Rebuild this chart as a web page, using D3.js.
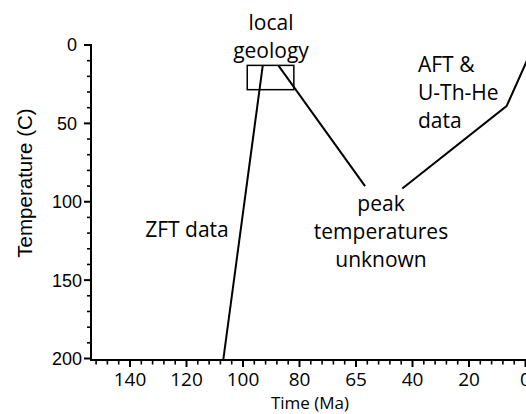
<!DOCTYPE html>
<html><head><meta charset="utf-8">
<script src="https://cdn.jsdelivr.net/npm/d3@7"></script>
<style>body{margin:0;background:#fff}svg{display:block}</style>
</head><body>
<script>
// ---- data ----
const xTickValues = [140, 120, 100, 80, 65, 40, 20, 0];
const xMinorValues = [152, 148, 144, 136, 132, 128, 124, 116, 112, 108, 104, 96, 92, 88, 84, 77, 74, 71, 68, 60, 55, 50, 45, 36, 32, 28, 24, 16, 12, 8, 4];
const yTickValues = [0, 50, 100, 150, 200];
const yMinorValues = [10, 20, 30, 40, 60, 70, 80, 90, 110, 120, 130, 140, 160, 170, 180, 190];
const zftPath = [[107, 201], [93, 13]];
const coolingPath = [[87.5, 13], [61, 90]];
const aftPath = [[44.5, 91.5], [6.7, 39], [-0.5, 10]];
const boxTime = [98.5, 82];
const boxTemp = [13, 28.5];

const W = 526, H = 414;
const svg = d3.select("body").append("svg").attr("width", W).attr("height", H);

// piecewise (non-uniform) time axis: labelled ticks are evenly spaced
const x0 = 130, step = 56.5;
const x = d3.scaleLinear()
  .domain(xTickValues)
  .range(xTickValues.map((d, i) => x0 + i * step));
const y = d3.scaleLinear().domain([0, 200]).range([45, 358.5]);

const axisLeft = 91, axisBottom = 360;
const black = "#000";
const myriad = "Open Sans, Noto Sans, sans-serif";

// y axis
const yAxis = svg.append("g");
yAxis.append("line").attr("x1", axisLeft).attr("x2", axisLeft)
  .attr("y1", y(0) - 1).attr("y2", axisBottom + 1)
  .attr("stroke", black).attr("stroke-width", 2);
yAxis.selectAll(".ymaj").data(yTickValues).join("line")
  .attr("x1", axisLeft - 7).attr("x2", axisLeft)
  .attr("y1", d => y(d)).attr("y2", d => y(d))
  .attr("stroke", black).attr("stroke-width", 2);
yAxis.selectAll(".ymin").data(yMinorValues).join("line")
  .attr("x1", axisLeft - 4).attr("x2", axisLeft)
  .attr("y1", d => y(d)).attr("y2", d => y(d))
  .attr("stroke", black).attr("stroke-width", 1.6);
yAxis.selectAll("text").data(yTickValues).join("text")
  .attr("x", d => d < 100 ? 77 : 82).attr("y", d => y(d))
  .attr("dy", "0.36em")
  .attr("text-anchor", "end")
  .attr("font-family", "Liberation Sans, Arial, sans-serif")
  .attr("font-size", 18)
  .text(d => d);
svg.append("text")
  .attr("transform", `translate(32,183) rotate(-90)`)
  .attr("text-anchor", "middle")
  .attr("font-family", "Liberation Sans, Arial, sans-serif")
  .attr("font-size", 20.5)
  .text("Temperature (C)");

// x axis
const xAxis = svg.append("g");
xAxis.append("line").attr("x1", axisLeft).attr("x2", W)
  .attr("y1", axisBottom).attr("y2", axisBottom)
  .attr("stroke", black).attr("stroke-width", 2);
xAxis.selectAll(".xmaj").data(xTickValues).join("line")
  .attr("x1", d => x(d)).attr("x2", d => x(d))
  .attr("y1", axisBottom).attr("y2", axisBottom + 7)
  .attr("stroke", black).attr("stroke-width", 2);
xAxis.selectAll(".xmin").data(xMinorValues).join("line")
  .attr("x1", d => x(d)).attr("x2", d => x(d))
  .attr("y1", axisBottom).attr("y2", axisBottom + 4.5)
  .attr("stroke", black).attr("stroke-width", 1.6);
xAxis.selectAll("text").data(xTickValues).join("text")
  .attr("x", d => x(d)).attr("y", 386)
  .attr("text-anchor", "middle")
  .attr("font-family", myriad)
  .attr("font-size", 19)
  .text(d => d);
svg.append("text").attr("x", 310).attr("y", 409)
  .attr("text-anchor", "middle")
  .attr("font-family", myriad)
  .attr("font-size", 17)
  .text("Time (Ma)");

// lines
const line = d3.line().x(d => x(d[0])).y(d => y(d[1]));
[zftPath, coolingPath, aftPath].forEach(p => {
  svg.append("path").attr("d", line(p))
    .attr("fill", "none").attr("stroke", black).attr("stroke-width", 2);
});

// box
svg.append("rect")
  .attr("x", x(boxTime[0])).attr("y", y(boxTemp[0]))
  .attr("width", x(boxTime[1]) - x(boxTime[0]))
  .attr("height", y(boxTemp[1]) - y(boxTemp[0]))
  .attr("fill", "none").attr("stroke", black).attr("stroke-width", 1.5);

// annotations
function note(lines, xx, yy, anchor) {
  const t = svg.append("text")
    .attr("font-family", myriad)
    .attr("font-size", 21)
    .attr("text-anchor", anchor);
  lines.forEach((s, i) => t.append("tspan").attr("x", xx).attr("y", yy + i * 28).text(s));
}
note(["local", "geology"], 271, 30, "middle");
note(["ZFT data"], 187, 237, "middle");
note(["peak", "temperatures", "unknown"], 381, 211, "middle");
note(["AFT &", "U-Th-He", "data"], 418, 72, "start");
</script>
</body></html>
